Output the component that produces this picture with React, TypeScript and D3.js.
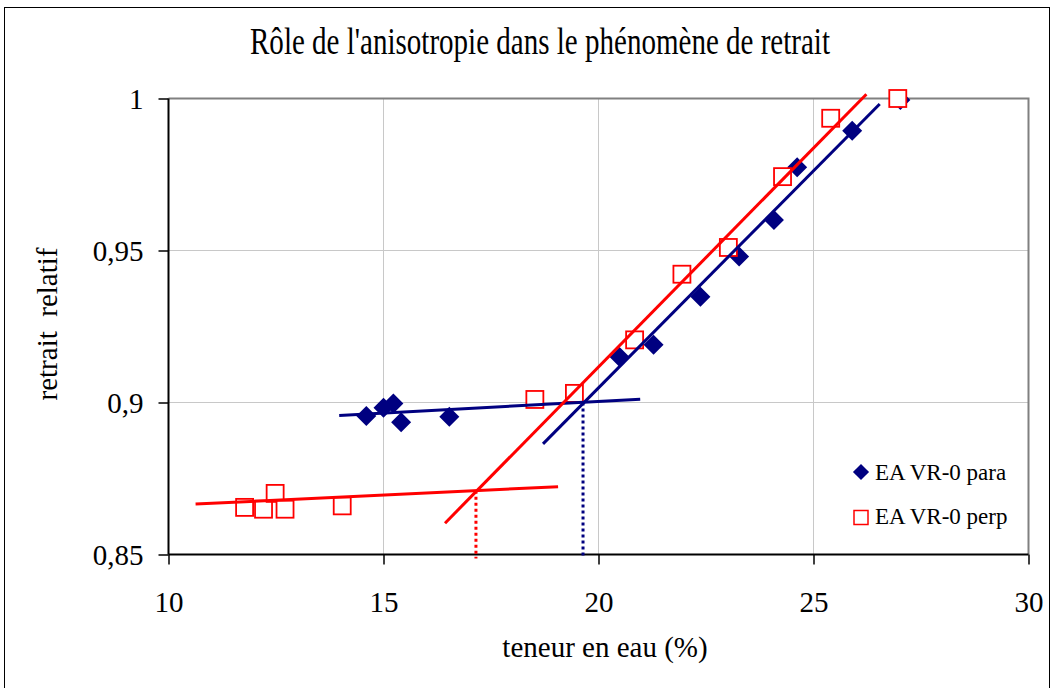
import React, { useEffect, useRef } from "react";
import * as d3 from "d3";

// teneur en eau (%) / retrait relatif
const paraX = [14.6, 15.0, 15.23, 15.41, 16.53, 20.49, 21.28, 22.37, 23.27, 24.08, 24.62, 25.9, 27.02];
const paraY = [0.8956, 0.8983, 0.8997, 0.8935, 0.8953, 0.915, 0.919, 0.9348, 0.948, 0.96, 0.9774, 0.9894, 0.9995];
const perpX = [11.77, 12.21, 12.48, 12.71, 14.04, 18.52, 19.44, 20.84, 21.94, 23.02, 24.28, 25.4, 26.96];
const perpY = [0.8655, 0.8649, 0.8701, 0.8649, 0.866, 0.901, 0.903, 0.9206, 0.9422, 0.951, 0.9743, 0.9935, 1.0];

// trend lines [x1, y1, x2, y2]
const paraFlat = [13.97, 0.8957, 20.97, 0.9011];
const paraSteep = [18.71, 0.8864, 26.54, 0.9982];
const perpFlat = [10.63, 0.8666, 19.06, 0.8723];
const perpSteep = [16.43, 0.8603, 26.23, 1.0014];

// intersections (dotted drop lines) [x, y]
const paraCross = [19.64, 0.9];
const perpCross = [17.15, 0.871];

const xTicks = [10, 15, 20, 25, 30];
const yTicks = [0.85, 0.9, 0.95, 1];
const legendLabels = ["EA VR-0 para", "EA VR-0 perp"];

const BLUE = "#000080";
const RED = "#ff0000";

export default function App() {
  const ref = useRef<SVGSVGElement>(null);

  useEffect(() => {
    const width = 1055;
    const height = 688;
    const left = 168.5, right = 1028.5, top = 98.5, bottom = 554.5;
    const font = "Liberation Serif, Times New Roman, serif";

    const svg = d3.select(ref.current);
    svg.selectAll("*").remove();
    svg.attr("width", width).attr("height", height);

    svg.append("rect")
      .attr("x", 4.5).attr("y", 7.5)
      .attr("width", 1045).attr("height", 700)
      .attr("fill", "white").attr("stroke", "black").attr("stroke-width", 1);

    const x = d3.scaleLinear().domain([10, 30]).range([left, right]);
    const y = d3.scaleLinear().domain([0.85, 1]).range([bottom, top]);

    // grid
    svg.append("g").selectAll("line")
      .data(xTicks.slice(1, -1))
      .enter().append("line")
      .attr("x1", d => x(d)).attr("x2", d => x(d))
      .attr("y1", top).attr("y2", bottom)
      .attr("stroke", "#c8c8c8").attr("stroke-width", 1);
    svg.append("g").selectAll("line")
      .data(yTicks.slice(1, -1))
      .enter().append("line")
      .attr("x1", left).attr("x2", right)
      .attr("y1", d => y(d)).attr("y2", d => y(d))
      .attr("stroke", "#c8c8c8").attr("stroke-width", 1);

    // plot frame top/right
    svg.append("path")
      .attr("d", `M${left},${top}H${right}V${bottom}`)
      .attr("fill", "none").attr("stroke", "#808080").attr("stroke-width", 2);

    // axes
    const xAxis = svg.append("g")
      .attr("transform", `translate(0,${bottom})`)
      .call(d3.axisBottom(x).tickValues(xTicks).tickSize(10).tickFormat(d3.format("d")));
    xAxis.select(".domain").attr("stroke", "black").attr("stroke-width", 2).attr("d", `M${left},0H${right}`);
    xAxis.selectAll(".tick line").attr("stroke", "black").attr("stroke-width", 1.5);
    xAxis.selectAll("text")
      .attr("y", 0).attr("dy", 0)
      .attr("transform", "translate(0,57)")
      .attr("fill", "black")
      .style("font-family", font).style("font-size", "29px");

    const yAxis = svg.append("g")
      .attr("transform", `translate(${left},0)`)
      .call(d3.axisLeft(y).tickValues(yTicks).tickSize(10)
        .tickFormat(d => (d === 1 ? "1" : d3.format(".2f")(+d).replace(/0$/, "").replace(".", ","))));
    yAxis.select(".domain").attr("stroke", "black").attr("stroke-width", 2).attr("d", `M0,${top}V${bottom}`);
    yAxis.selectAll(".tick line").attr("stroke", "black").attr("stroke-width", 1.5);
    yAxis.selectAll("text")
      .attr("x", -25).attr("dy", "0.35em")
      .attr("fill", "black")
      .style("font-family", font).style("font-size", "29px");

    // markers
    const paraData = paraX.map((v, i) => [v, paraY[i]]);
    const perpData = perpX.map((v, i) => [v, perpY[i]]);
    const diamond = d3.symbol().type(d3.symbolSquare).size(200)();
    svg.append("g").selectAll("path")
      .data(paraData)
      .enter().append("path")
      .attr("d", diamond)
      .attr("transform", d => `translate(${x(d[0])},${y(d[1])}) rotate(45)`)
      .attr("fill", BLUE);
    svg.append("g").selectAll("rect")
      .data(perpData)
      .enter().append("rect")
      .attr("x", d => x(d[0]) - 8.5).attr("y", d => y(d[1]) - 8.5)
      .attr("width", 17).attr("height", 17)
      .attr("fill", "white")
      .attr("stroke", RED).attr("stroke-width", 1.8);

    // trend lines
    const trends = [
      { seg: paraFlat, color: BLUE },
      { seg: paraSteep, color: BLUE },
      { seg: perpFlat, color: RED },
      { seg: perpSteep, color: RED },
    ];
    svg.append("g").selectAll("line")
      .data(trends)
      .enter().append("line")
      .attr("x1", d => x(d.seg[0])).attr("y1", d => y(d.seg[1]))
      .attr("x2", d => x(d.seg[2])).attr("y2", d => y(d.seg[3]))
      .attr("stroke", d => d.color).attr("stroke-width", 3);

    // dotted drop lines
    const drops = [
      { p: paraCross, color: BLUE },
      { p: perpCross, color: RED },
    ];
    svg.append("g").selectAll("line")
      .data(drops)
      .enter().append("line")
      .attr("x1", d => x(d.p[0])).attr("x2", d => x(d.p[0]))
      .attr("y1", d => y(d.p[1])).attr("y2", bottom + 4)
      .attr("stroke", d => d.color).attr("stroke-width", 3)
      .attr("stroke-dasharray", "3,3");

    // legend
    const legend = svg.append("g");
    legend.append("path")
      .attr("d", d3.symbol().type(d3.symbolSquare).size(130)())
      .attr("transform", "translate(861,472) rotate(45)")
      .attr("fill", BLUE);
    legend.append("rect")
      .attr("x", 854).attr("y", 510.5).attr("width", 14).attr("height", 14)
      .attr("fill", "none").attr("stroke", RED).attr("stroke-width", 1.5);
    legend.selectAll("text")
      .data(legendLabels)
      .enter().append("text")
      .attr("x", 875).attr("y", (d, i) => 479.5 + i * 44)
      .style("font-family", font).style("font-size", "23px")
      .text(d => d);

    // titles
    svg.append("text")
      .attr("x", 250).attr("y", 54)
      .attr("textLength", 580).attr("lengthAdjust", "spacingAndGlyphs")
      .style("font-family", font).style("font-size", "38px")
      .text("Rôle de l'anisotropie dans le phénomène de retrait");

    svg.append("text")
      .attr("x", 605).attr("y", 657)
      .attr("text-anchor", "middle")
      .style("font-family", font).style("font-size", "29px")
      .text("teneur en eau (%)");

    svg.append("text")
      .attr("transform", "translate(57,324) rotate(-90)")
      .attr("text-anchor", "middle")
      .style("font-family", font).style("font-size", "29px")
      .style("white-space", "pre")
      .text("retrait  relatif");
  }, []);

  return <svg ref={ref} style={{ position: "absolute", left: 0, top: 0 }} />;
}
